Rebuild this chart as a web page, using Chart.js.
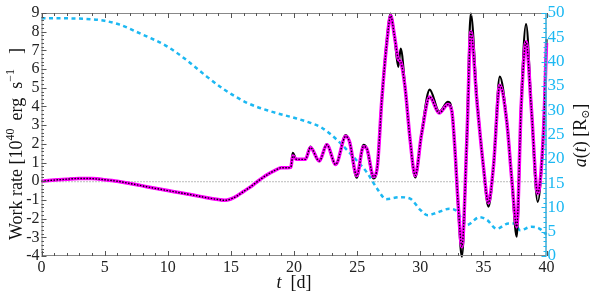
<!DOCTYPE html>
<html>
<head>
<meta charset="utf-8">
<script src="https://cdn.jsdelivr.net/npm/chart.js@4.4.0/dist/chart.umd.min.js"></script>
<style>
  html, body { margin: 0; padding: 0; background: #fff; }
</style>
</head>
<body>
<canvas id="chart" width="592" height="297"></canvas>
<script>
    // time [d] for the work rate curves
    const tWork = [0, 1, 2, 3, 4, 5, 6, 7, 8, 9, 10, 11, 12, 13, 14, 14.5, 15, 15.5, 16, 16.5, 17, 17.5, 18, 18.5, 19, 19.5, 19.75, 19.9, 20.2, 20.9, 21.3, 22.0, 22.6, 23.3, 24.1, 24.4, 24.97, 25.5, 25.76, 26.3, 26.6, 26.95, 27.35, 27.66, 27.95, 28.26, 28.45, 28.8, 29.2, 29.6, 30.1, 30.75, 31.5, 32.2, 32.5, 32.75, 33.0, 33.3, 33.7, 34.0, 34.5, 35.0, 35.4, 35.8, 36.3, 36.85, 37.25, 37.64, 38.0, 38.38, 38.8, 39.3, 39.75, 40];
    // work rate [1e40 erg/s], black solid
    const workRate = [0, 0.06, 0.11, 0.15, 0.14, 0.08, 0.0, -0.12, -0.25, -0.38, -0.5, -0.62, -0.74, -0.87, -0.98, -1.02, -0.95, -0.78, -0.55, -0.33, -0.07, 0.18, 0.4, 0.58, 0.72, 0.72, 0.75, 1.52, 1.17, 1.17, 1.85, 1.08, 1.99, 0.9, 2.47, 2.11, 0.19, 1.94, 1.76, 0.15, 0.78, 4.34, 7.55, 8.97, 7.8, 6.12, 7.1, 5.05, 2.2, 0.2, 2.56, 4.9, 3.72, 4.25, 3.8, 1.67, -1.36, -4.04, 2.56, 8.97, 4.34, 0.78, -1.36, 0.78, 5.6, 3.27, 0.06, -2.97, 4.34, 8.4, 3.98, -1.1, 2.56, 7.6];
    // work rate, magenta (with black dots on top)
    const workRateAlt = [0, 0.06, 0.11, 0.15, 0.14, 0.08, 0.0, -0.12, -0.25, -0.38, -0.5, -0.62, -0.74, -0.87, -0.98, -1.02, -0.95, -0.78, -0.55, -0.33, -0.07, 0.18, 0.4, 0.58, 0.72, 0.72, 0.75, 1.35, 1.17, 1.17, 1.8, 1.08, 1.95, 0.9, 2.4, 2.11, 0.3, 1.85, 1.76, 0.25, 0.78, 4.3, 7.4, 8.85, 7.8, 6.55, 6.4, 5.0, 2.2, 0.3, 2.5, 4.5, 3.65, 4.1, 3.75, 1.67, -1.2, -3.5, 2.4, 8.0, 4.2, 0.8, -1.15, 0.8, 5.14, 3.2, 0.1, -2.43, 4.1, 7.46, 3.9, -0.65, 2.5, 7.4];

    // time [d] and orbital separation a(t) [R_sun]
    const tSep = [0, 2, 4, 5, 6.2, 7.8, 9.9, 11.5, 13.1, 14.5, 16.3, 18.1, 20.2, 21.3, 22.2, 23.4, 24.7, 25.8, 26.6, 27.3, 28.4, 29.2, 30.0, 30.6, 31.3, 32.3, 32.8, 33.7, 34.7, 35.3, 36.05, 37.0, 37.5, 37.9, 38.8, 39.4, 40];
    const separation = [48.9, 48.9, 48.7, 48.4, 47.6, 45.8, 43.2, 40.3, 36.9, 34.2, 31.5, 29.8, 28.3, 27.4, 26.4, 23.9, 20.4, 17.1, 13.8, 11.7, 12.1, 11.8, 9.5, 8.4, 8.9, 9.7, 9.4, 6.4, 8.0, 7.4, 5.6, 6.7, 6.7, 5.3, 6.0, 5.7, 4.4];

    const xTicks = [0, 5, 10, 15, 20, 25, 30, 35, 40];
    const yTicks = [-4, -3, -2, -1, 0, 1, 2, 3, 4, 5, 6, 7, 8, 9];
    const aTicks = [0, 5, 10, 15, 20, 25, 30, 35, 40, 45, 50];

    const BLUE = '#1cb8f2';
    const SERIF = "'Liberation Serif', 'DejaVu Serif', serif";

    const toPoints = (xs, ys) => xs.map((x, i) => ({ x, y: ys[i] }));

    // draw a run of text pieces, each with its own size / offset / gap / style
    function drawPieces(ctx, pieces, cx, baseline) {
      let total = 0;
      pieces.forEach(p => {
        ctx.font = `${p.italic ? 'italic ' : ''}${p.size}px ${SERIF}`;
        p.w = ctx.measureText(p.text).width + (p.gap || 0);
        total += p.w;
      });
      let x = cx - total / 2;
      pieces.forEach(p => {
        ctx.font = `${p.italic ? 'italic ' : ''}${p.size}px ${SERIF}`;
        ctx.fillText(p.text, x, baseline - (p.rise || 0));
        x += p.w;
      });
    }

    const framePlugin = {
      id: 'frame',
      beforeDatasetsDraw(chart) {
        const { ctx, chartArea: a, scales } = chart;
        ctx.save();
        // dotted zero line
        const y0 = scales.y.getPixelForValue(0);
        ctx.strokeStyle = '#777';
        ctx.lineWidth = 1;
        ctx.setLineDash([1, 2]);
        ctx.beginPath();
        ctx.moveTo(a.left, y0 + 0.5);
        ctx.lineTo(a.right, y0 + 0.5);
        ctx.stroke();
        ctx.restore();
      },
      afterDraw(chart) {
        const { ctx, chartArea: a, scales } = chart;
        ctx.save();
        ctx.lineWidth = 1;
        // frame
        ctx.strokeStyle = '#888';
        ctx.strokeRect(a.left + 0.5, a.top + 0.5, a.right - a.left - 1, a.bottom - a.top - 1);

        // x ticks, bottom and top
        ctx.strokeStyle = '#555';
        ctx.beginPath();
        for (let v = 0; v <= 40; v += 1) {
          const px = Math.round(scales.x.getPixelForValue(v)) + 0.5;
          const len = v % 5 === 0 ? 5 : 3;
          ctx.moveTo(px, a.bottom);
          ctx.lineTo(px, a.bottom - len);
          ctx.moveTo(px, a.top);
          ctx.lineTo(px, a.top + len);
        }
        // left ticks
        for (let i = -20; i <= 45; i++) {
          const py = Math.round(scales.y.getPixelForValue(i / 5)) + 0.5;
          const len = i % 5 === 0 ? 5 : 2.5;
          ctx.moveTo(a.left, py);
          ctx.lineTo(a.left + len, py);
        }
        ctx.stroke();

        // right ticks (blue)
        ctx.strokeStyle = BLUE;
        ctx.beginPath();
        ctx.moveTo(a.right - 0.5, a.top);
        ctx.lineTo(a.right - 0.5, a.bottom);
        for (let v = 0; v <= 50; v += 1) {
          const py = Math.round(scales.a.getPixelForValue(v)) + 0.5;
          const len = v % 5 === 0 ? 5 : 3;
          ctx.moveTo(a.right, py);
          ctx.lineTo(a.right - len, py);
        }
        ctx.stroke();

        // axis titles
        ctx.fillStyle = '#111';
        ctx.textAlign = 'left';
        ctx.textBaseline = 'alphabetic';
        drawPieces(ctx, [
          { text: 't', size: 18, italic: true, gap: 9 },
          { text: '[d]', size: 18 }
        ], (a.left + a.right) / 2, 288);

        ctx.save();
        ctx.translate(22, 144);
        ctx.rotate(-Math.PI / 2);
        drawPieces(ctx, [
          { text: 'Work rate [10', size: 18 },
          { text: '40', size: 12, rise: 8, gap: 8 },
          { text: 'erg', size: 18, gap: 9 },
          { text: 's', size: 18 },
          { text: '\u22121', size: 12, rise: 8, gap: 15 },
          { text: ']', size: 18 }
        ], 0, 0);
        ctx.restore();

        ctx.save();
        ctx.translate(586, 135.5);
        ctx.rotate(-Math.PI / 2);
        drawPieces(ctx, [
          { text: 'a', size: 18, italic: true },
          { text: '(', size: 18 },
          { text: 't', size: 18, italic: true },
          { text: ') [R', size: 18 },
          { text: '\u2299', size: 11, rise: -3 },
          { text: ']', size: 18 }
        ], 0, 0);
        ctx.restore();
        ctx.restore();
      }
    };

    new Chart(document.getElementById('chart').getContext('2d'), {
      type: 'line',
      data: {
        datasets: [
          {
            label: 'work rate (dots)',
            data: toPoints(tWork, workRateAlt),
            yAxisID: 'y',
            borderColor: '#000',
            borderWidth: 1.4,
            borderDash: [1.5, 1.5],
            cubicInterpolationMode: 'monotone',
            pointRadius: 0,
            order: 1
          },
          {
            label: 'work rate (magenta)',
            data: toPoints(tWork, workRateAlt),
            yAxisID: 'y',
            borderColor: '#ff00ff',
            borderWidth: 3.5,
            cubicInterpolationMode: 'monotone',
            pointRadius: 0,
            order: 2
          },
          {
            label: 'work rate',
            data: toPoints(tWork, workRate),
            yAxisID: 'y',
            borderColor: '#000',
            borderWidth: 2.2,
            cubicInterpolationMode: 'monotone',
            pointRadius: 0,
            order: 3
          },
          {
            label: 'a(t)',
            data: toPoints(tSep, separation),
            yAxisID: 'a',
            borderColor: BLUE,
            borderWidth: 2.5,
            borderDash: [4, 3.5],
            cubicInterpolationMode: 'monotone',
            pointRadius: 0,
            order: 4
          }
        ]
      },
      options: {
        responsive: false,
        animation: false,
        clip: false,
        layout: { padding: { top: 13, left: 0, right: 0, bottom: 0 } },
        plugins: { legend: { display: false }, tooltip: { enabled: false } },
        scales: {
          x: {
            type: 'linear',
            min: 0, max: 40,
            afterFit: s => { s.height = 41; },
            afterBuildTicks: s => { s.ticks = xTicks.map(v => ({ value: v })); },
            grid: { display: false, drawTicks: false },
            border: { display: false },
            ticks: { color: '#222', padding: 2, maxRotation: 0, autoSkip: false, font: { family: SERIF, size: 16 } }
          },
          y: {
            position: 'left',
            min: -4, max: 9,
            afterFit: s => { s.width = 41.5; },
            afterBuildTicks: s => { s.ticks = yTicks.map(v => ({ value: v })); },
            grid: { display: false, drawTicks: false },
            border: { display: false },
            ticks: { color: '#222', padding: 2, autoSkip: false, font: { family: SERIF, size: 16 } }
          },
          a: {
            position: 'right',
            min: 0, max: 50,
            afterFit: s => { s.width = 45.5; },
            afterBuildTicks: s => { s.ticks = aTicks.map(v => ({ value: v })); },
            grid: { display: false, drawTicks: false },
            border: { display: false },
            ticks: { color: BLUE, padding: 1, autoSkip: false, font: { family: SERIF, size: 17 } }
          }
        }
      },
      plugins: [framePlugin]
    });
</script>
</body>
</html>
